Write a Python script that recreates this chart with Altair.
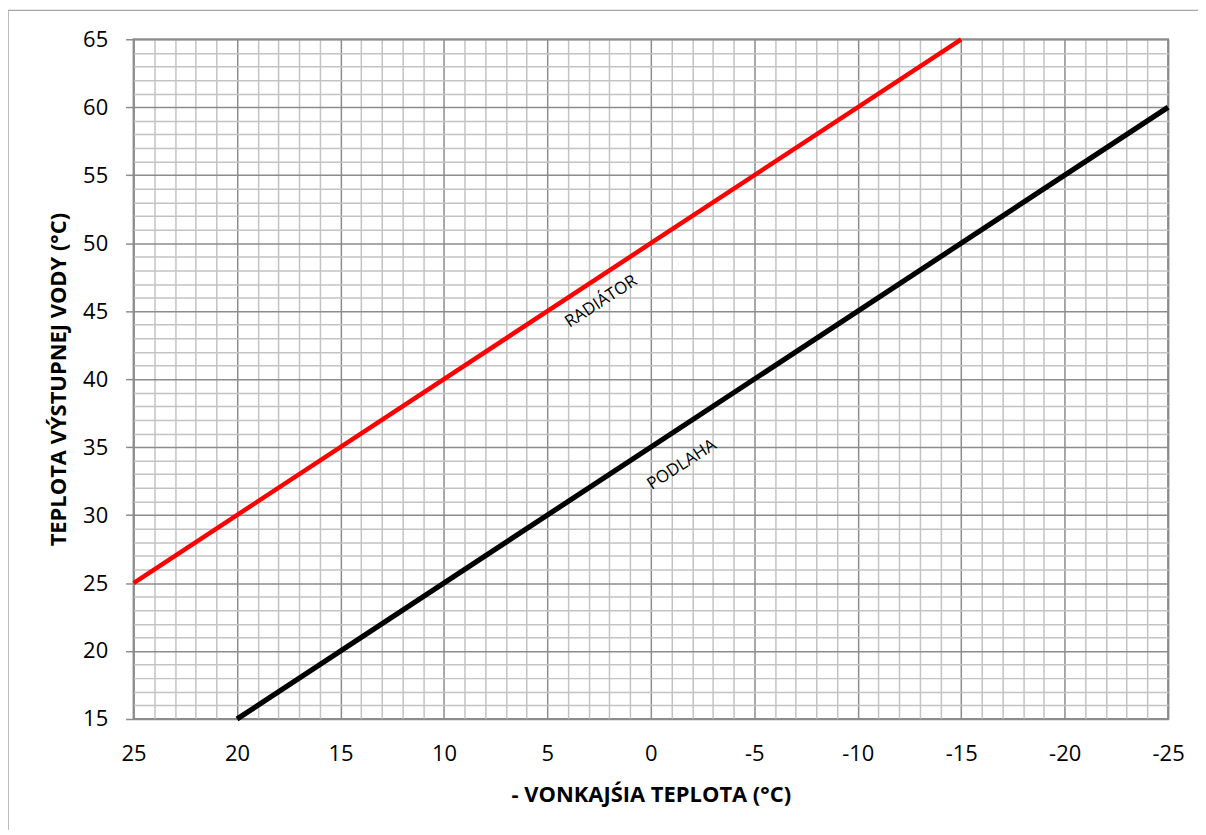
import altair as alt
import pandas as pd

# Axis ranges and grid/tick values
x_min, x_max = -25, 25
y_min, y_max = 15, 65
x_grid_values = list(range(-25, 26))
y_grid_values = list(range(15, 66))

# Heating curves (outdoor temperature -> supply water temperature)
series_names = ["RADIÁTOR", "PODLAHA"]
radiator_x = [25, 0, -15]
radiator_y = [25, 50, 65]
podlaha_x = [20, 0, -25]
podlaha_y = [15, 35, 60]

# In-plot labels
label_text = ["RADIÁTOR", "PODLAHA"]
label_x = [2.4, -1.5]
label_y = [45.7, 33.7]

x_title = "- VONKAJŚIA TEPLOTA (°C)"
y_title = "TEPLOTA VÝSTUPNEJ VODY (°C)"

FONT = "Open Sans"
MAJOR = "#8c8c8c"
MINOR = "#c3c3c3"

lines_df = pd.DataFrame(
    {
        "x": radiator_x + podlaha_x,
        "y": radiator_y + podlaha_y,
        "series": [series_names[0]] * len(radiator_x) + [series_names[1]] * len(podlaha_x),
    }
)
labels_df = pd.DataFrame({"x": label_x, "y": label_y, "text": label_text})

major_test = "datum.value % 5 === 0"

x_axis = alt.Axis(
    values=x_grid_values,
    tickCount=200,
    title=x_title,
    labelExpr="datum.value % 5 === 0 ? '' + datum.value : ''",
    labelFlush=False,
    labelOverlap=False,
    labelFont=FONT,
    labelFontSize=22,
    labelColor="#000000",
    labelPadding=25,
    ticks=False,
    domain=False,
    grid=True,
    gridColor={"condition": {"test": major_test, "value": MAJOR}, "value": MINOR},
    gridWidth=1.5,
    titleFont=FONT,
    titleFontSize=22,
    titleFontWeight="bold",
    titleColor="#000000",
    titleX=519,
    titleY=76,
    titleAlign="center",
    titleBaseline="middle",
)

y_axis = alt.Axis(
    values=y_grid_values,
    tickCount=200,
    title=y_title,
    labelExpr="datum.value % 5 === 0 ? '' + datum.value : ''",
    labelOverlap=False,
    labelFont=FONT,
    labelFontSize=22,
    labelColor="#000000",
    labelPadding=18,
    ticks=True,
    tickSize=8,
    tickWidth=1.5,
    tickColor=MAJOR,
    tickOpacity={"condition": {"test": major_test, "value": 1}, "value": 0},
    domain=False,
    grid=True,
    gridColor={"condition": {"test": major_test, "value": MAJOR}, "value": MINOR},
    gridWidth=1.5,
    titleFont=FONT,
    titleFontSize=22,
    titleFontWeight="bold",
    titleColor="#000000",
    titleAngle=270,
    titleX=-75,
    titleY=341,
    titleAlign="center",
    titleBaseline="middle",
)

x_scale = alt.Scale(domain=[x_min, x_max], reverse=True, nice=False, zero=False)
y_scale = alt.Scale(domain=[y_min, y_max], nice=False, zero=False)

frame = (
    alt.Chart(alt.Data(values=[{"a": 1}]))
    .mark_rect(fillOpacity=0, stroke="#a6a6a6", strokeWidth=1.5)
    .encode(x=alt.value(-126), x2=alt.value(3000), y=alt.value(-29), y2=alt.value(3000))
)

lines = (
    alt.Chart(lines_df)
    .mark_line()
    .encode(
        x=alt.X("x:Q", scale=x_scale, axis=x_axis),
        y=alt.Y("y:Q", scale=y_scale, axis=y_axis),
        color=alt.Color(
            "series:N",
            scale=alt.Scale(domain=series_names, range=["#ff0000", "#000000"]),
            legend=None,
        ),
        strokeWidth=alt.StrokeWidth(
            "series:N",
            scale=alt.Scale(domain=series_names, range=[4.5, 5.2]),
            legend=None,
        ),
        detail="series:N",
    )
)

labels = (
    alt.Chart(labels_df)
    .mark_text(angle=327, fontSize=17, font=FONT, color="#000000")
    .encode(x=alt.X("x:Q", scale=x_scale), y=alt.Y("y:Q", scale=y_scale), text="text:N")
)

chart = (
    alt.layer(lines, labels, frame)
    .properties(
        width=1038,
        height=682,
        padding={"left": 126, "top": 30, "right": 30, "bottom": 110},
        autosize=alt.AutoSizeParams(type="none"),
        background="#ffffff",
    )
    .configure_view(stroke="#8c8c8c", strokeWidth=2)
)

chart.save("out.html", embed_options={"renderer": "svg", "actions": False})
